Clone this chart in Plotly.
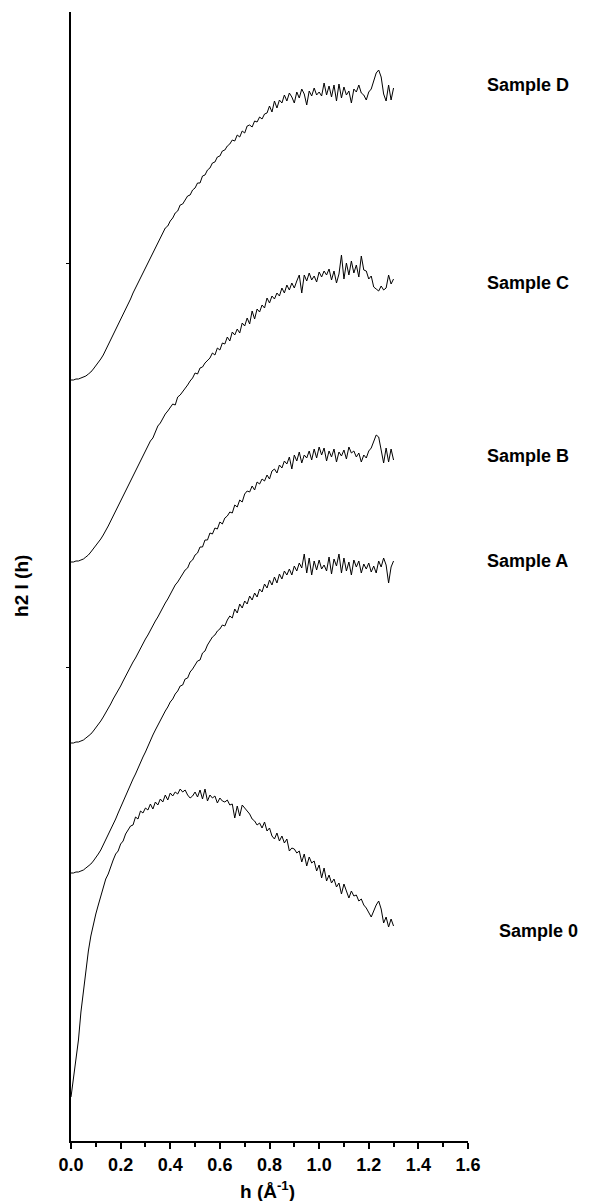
import plotly.graph_objects as go

# scattering vector h (Å^-1), 0.00 .. 1.30 step 0.01
h = [round(i * 0.01, 2) for i in range(131)]

sample_D = [761, 761, 762, 762, 763, 764, 765, 767, 769, 772,
            775, 778, 782, 786, 791, 796, 801, 806, 811, 816,
            822, 827, 832, 837, 842, 848, 853, 858, 863, 868,
            874, 879, 884, 889, 894, 899, 904, 908, 913, 915,
            920, 923, 928, 930, 936, 937, 941, 945, 946, 951,
            953, 958, 958, 965, 966, 971, 973, 978, 979, 984,
            985, 990, 991, 995, 997, 1001, 1000, 1006, 1004, 1010,
            1008, 1015, 1016, 1014, 1020, 1019, 1024, 1022, 1027, 1028,
            1035, 1029, 1040, 1033, 1041, 1038, 1046, 1040, 1048, 1044,
            1038, 1049, 1043, 1052, 1047, 1036, 1050, 1045, 1053, 1046,
            1049, 1045, 1058, 1046, 1055, 1044, 1056, 1040, 1057, 1043,
            1054, 1046, 1050, 1038, 1052, 1049, 1056, 1048, 1046, 1041,
            1049, 1052, 1060, 1068, 1071, 1064, 1047, 1040, 1056, 1041,
            1053]

sample_C = [579, 579, 580, 580, 581, 582, 584, 586, 589, 592,
            595, 598, 602, 606, 610, 615, 620, 625, 630, 635,
            640, 645, 650, 655, 660, 665, 670, 675, 680, 685,
            690, 695, 700, 703, 710, 715, 718, 723, 727, 730,
            733, 737, 736, 744, 746, 749, 753, 756, 760, 763,
            768, 767, 773, 774, 778, 781, 783, 788, 786, 793,
            791, 798, 797, 804, 800, 809, 806, 812, 808, 818,
            815, 823, 817, 830, 822, 832, 829, 836, 833, 843,
            838, 845, 842, 848, 845, 853, 848, 856, 851, 858,
            853, 860, 866, 848, 866, 860, 868, 861, 865, 859,
            869, 864, 870, 866, 872, 861, 870, 858, 867, 886,
            862, 878, 866, 880, 868, 876, 864, 885, 871, 870,
            862, 865, 854, 852, 850, 855, 851, 853, 866, 857,
            862]

sample_B = [398, 398, 399, 399, 400, 401, 403, 405, 407, 410,
            413, 416, 420, 424, 428, 433, 437, 442, 446, 451,
            455, 460, 465, 469, 474, 479, 483, 488, 492, 497,
            502, 506, 511, 515, 520, 524, 529, 533, 538, 542,
            547, 551, 556, 559, 563, 566, 571, 573, 579, 581,
            586, 588, 594, 594, 601, 601, 608, 607, 613, 612,
            619, 617, 623, 625, 629, 628, 636, 634, 641, 639,
            647, 650, 649, 655, 651, 659, 657, 662, 660, 666,
            662, 670, 672, 668, 676, 673, 680, 677, 684, 672,
            686, 680, 689, 678, 686, 683, 690, 681, 692, 683,
            694, 686, 693, 680, 690, 684, 692, 679, 689, 685,
            691, 682, 694, 688, 690, 684, 688, 679, 686, 683,
            690, 693, 700, 706, 704, 692, 678, 693, 679, 692,
            681]

sample_A = [268, 268, 269, 269, 270, 271, 273, 275, 277, 280,
            283, 287, 291, 296, 301, 306, 311, 317, 322, 328,
            334, 339, 345, 350, 356, 362, 367, 373, 378, 384,
            389, 395, 400, 406, 411, 416, 421, 425, 430, 434,
            439, 442, 447, 450, 455, 456, 462, 463, 469, 472,
            476, 480, 481, 488, 490, 496, 500, 504, 506, 510,
            512, 516, 515, 521, 525, 523, 532, 528, 537, 533,
            540, 537, 545, 541, 548, 544, 552, 549, 557, 553,
            561, 556, 564, 558, 567, 562, 570, 566, 572, 566,
            575, 570, 578, 573, 587, 568, 583, 566, 580, 571,
            581, 572, 576, 570, 584, 567, 582, 575, 587, 568,
            583, 570, 579, 566, 581, 574, 580, 568, 577, 572,
            578, 569, 575, 568, 580, 574, 583, 576, 558, 574,
            580]

sample_0 = [44, 62, 80, 101, 129, 150, 172, 190, 205, 218,
            227, 236, 244, 252, 262, 267, 275, 281, 287, 290,
            297, 300, 307, 311, 315, 316, 324, 322, 330, 328,
            333, 331, 337, 332, 339, 336, 342, 339, 346, 341,
            348, 345, 349, 347, 352, 349, 351, 346, 343, 345,
            349, 344, 351, 342, 352, 340, 346, 343, 345, 338,
            343, 340, 339, 341, 336, 337, 323, 335, 325, 336,
            333, 329, 327, 322, 320, 316, 318, 313, 319, 310,
            313, 305, 302, 308, 300, 305, 298, 302, 290, 293,
            292, 288, 290, 279, 287, 275, 284, 278, 280, 270,
            276, 263, 273, 260, 266, 258, 262, 254, 258, 247,
            257, 250, 243, 250, 245, 246, 240, 242, 236, 233,
            228, 224, 230, 236, 240, 232, 218, 224, 214, 222,
            215]

series = [("Sample D", sample_D), ("Sample C", sample_C), ("Sample B", sample_B),
          ("Sample A", sample_A), ("Sample 0", sample_0)]
for name, s in series:
    if len(s) != len(h):
        raise ValueError(f"{name}: {len(s)} values, expected {len(h)}")

# label anchors: x in paper fraction (right of plot), y in data units
label_names = ["Sample D", "Sample C", "Sample B", "Sample A", "Sample 0"]
label_x = [1.043, 1.043, 1.043, 1.043, 1.073]
label_y = [1056, 858, 685, 580, 210]

x_ticks = [0.0, 0.2, 0.4, 0.6, 0.8, 1.0, 1.2, 1.4, 1.6]
x_tick_text = ["0.0", "0.2", "0.4", "0.6", "0.8", "1.0", "1.2", "1.4", "1.6"]

FONT = "Liberation Sans, Arial, Helvetica, sans-serif"

fig = go.Figure()
for name, s in series:
    fig.add_trace(go.Scatter(x=h, y=s, mode="lines", name=name,
                             line=dict(color="black", width=1),
                             showlegend=False))

for n, lx, ly in zip(label_names, label_x, label_y):
    fig.add_annotation(x=lx, y=ly, xref="paper", yref="y", text=n, showarrow=False,
                       xanchor="left", yanchor="middle",
                       font=dict(family=FONT, size=18, color="black", weight="bold"))

# axis titles
fig.add_annotation(x=0.496, y=-0.043, xref="paper", yref="paper",
                   text="h (Å<sup>-1</sup>)", showarrow=False,
                   xanchor="center", yanchor="middle",
                   font=dict(family=FONT, size=19, color="black", weight="bold"))
fig.add_annotation(x=-0.125, y=0.492, xref="paper", yref="paper",
                   text="h2 I (h)", showarrow=False, textangle=-90,
                   xanchor="center", yanchor="middle",
                   font=dict(family=FONT, size=19, color="black", weight="bold"))

fig.update_layout(
    width=601, height=1201,
    margin=dict(l=71, r=133, t=12, b=60, pad=0),
    paper_bgcolor="white", plot_bgcolor="white",
    font=dict(family=FONT, size=18, color="black"),
)
fig.update_xaxes(range=[0, 1.6], showgrid=False, zeroline=False,
                 showline=True, linecolor="black", linewidth=2,
                 ticks="outside", ticklen=6, tickwidth=2, tickcolor="black",
                 tickvals=x_ticks, ticktext=x_tick_text,
                 tickfont=dict(family=FONT, size=18, color="black", weight="bold"),
                 minor=dict(dtick=0.1, tick0=0, ticks="outside", ticklen=4,
                            tickwidth=2, tickcolor="black"))
fig.update_yaxes(range=[0, 1129], showgrid=False, zeroline=False,
                 showline=True, linecolor="black", linewidth=2,
                 ticks="outside", ticklen=3, tickwidth=1, tickcolor="black",
                 tickvals=[474, 878], showticklabels=False)

fig.write_html("out.html")
